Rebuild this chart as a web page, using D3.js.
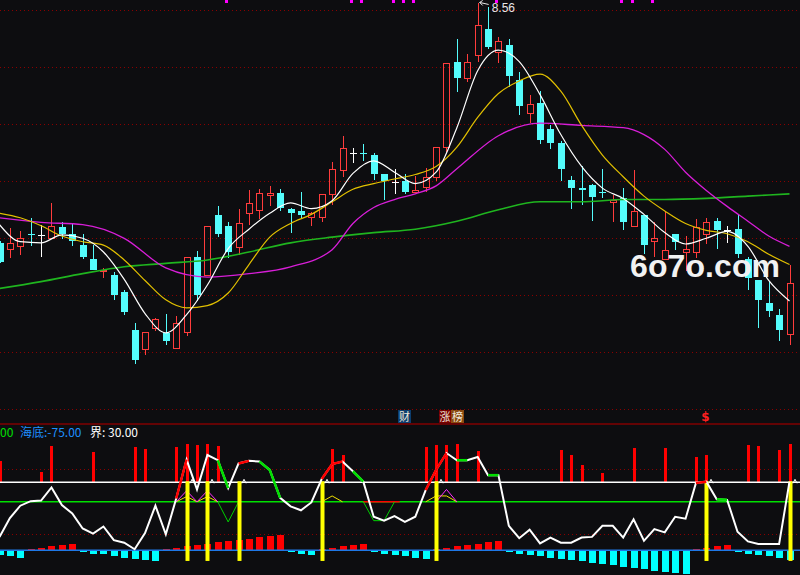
<!DOCTYPE html>
<html>
<head>
<meta charset="utf-8">
<script src="https://cdn.jsdelivr.net/npm/d3@7/dist/d3.min.js"></script>
<style>
  body { margin: 0; background: #0d0d10; }
  svg { display: block; }
</style>
</head>
<body>
<div id="chart"></div>
<script>
// daily candles (index 0 = left edge)
const opens  = [6.46,6.41,6.43,6.54,6.53,6.50,6.60,6.54,6.44,6.32, 6.21,6.18,6.03,5.70,5.53,5.71,5.67,5.54,5.68,6.34,
                6.18,6.70,6.61,6.42,6.72,6.75,6.88,6.90,6.76,6.74, 6.69,6.69,6.89,7.10,7.25,7.25,7.23,7.06,6.99,7.00,
                6.91,6.95,7.04,7.30,8.05,7.91,8.11,8.34,8.13,8.20, 7.89,7.60,7.69,7.46,7.34,7.01,6.94,6.97,6.91,6.82,
                6.85,6.61,6.70,6.48,6.32,6.54,6.38,6.38,6.54,6.65, 6.57,6.58,6.32,6.13,5.93,5.83,5.66];
const highs  = [6.48,6.59,6.56,6.68,6.62,6.81,6.64,6.63,6.54,6.44, 6.24,6.20,6.05,5.76,5.68,5.80,5.84,5.82,6.34,6.39,
                6.61,6.78,6.64,6.76,6.92,6.93,6.96,6.93,6.77,6.91, 6.73,6.89,7.17,7.40,7.29,7.33,7.25,7.06,7.11,7.06,
                7.05,7.12,7.30,8.04,8.25,8.12,8.56,8.53,8.27,8.25, 7.96,7.76,7.79,7.49,7.35,7.05,7.13,6.98,7.11,6.88,
                6.94,7.10,6.70,6.64,6.73,6.54,6.52,6.67,6.68,6.68, 6.61,6.70,6.34,6.13,6.12,5.88,6.27];
const lows   = [6.28,6.33,6.35,6.43,6.34,6.50,6.49,6.43,6.32,6.22, 6.15,5.96,5.83,5.40,5.48,5.69,5.56,5.54,5.64,5.95,
                6.18,6.51,6.33,6.35,6.62,6.67,6.78,6.74,6.55,6.68, 6.61,6.64,6.79,7.04,7.16,7.18,7.01,6.84,6.89,6.89,
                6.90,6.91,7.00,7.26,7.78,7.87,8.05,8.16,8.04,7.83, 7.58,7.51,7.33,7.28,7.00,6.76,6.79,6.65,6.85,6.64,
                6.57,6.61,6.36,6.34,6.32,6.40,6.21,6.33,6.45,6.41, 6.46,6.33,6.05,5.71,5.81,5.60,5.56];
const closes = [6.29,6.46,6.50,6.53,6.53,6.61,6.54,6.48,6.34,6.22, 6.22,6.00,5.85,5.43,5.68,5.79,5.60,5.76,6.34,6.00,
                6.61,6.54,6.38,6.63,6.81,6.90,6.90,6.77,6.72,6.70, 6.72,6.89,7.11,7.29,7.25,7.24,7.06,7.00,6.99,6.91,
                6.92,7.04,7.30,8.04,7.91,8.05,8.37,8.18,8.23,7.92, 7.66,7.68,7.36,7.34,7.11,6.94,6.92,6.86,6.90,6.84,
                6.64,6.74,6.44,6.50,6.40,6.47,6.41,6.60,6.64,6.57, 6.57,6.36,6.15,5.96,5.86,5.70,6.11];

// moving averages as drawn (sampled along the line)
const ma5Idx  = [0,2,4,6,8,10,12,14,16,18,20,22,24,26,28,30,32,34,36,38,40,42,44,46,48,50,52,54,56,58,60,62,64,66,68,70,72,74,76];
const ma5     = [6.62,6.47,6.46,6.53,6.50,6.38,6.14,5.84,5.67,5.83,6.09,6.41,6.58,6.72,6.81,6.76,6.83,7.07,7.18,7.08,
                 6.98,7.08,7.47,7.97,8.15,8.05,7.76,7.41,7.13,6.94,6.85,6.71,6.55,6.45,6.50,6.56,6.43,6.13,5.95];
const ma10Idx = ma5Idx;
const ma10    = [6.72,6.68,6.61,6.52,6.47,6.44,6.31,6.13,5.96,5.89,5.91,6.02,6.27,6.51,6.63,6.71,6.82,6.93,6.98,7.02,
                 7.06,7.13,7.30,7.56,7.77,7.88,7.94,7.79,7.49,7.23,7.04,6.87,6.74,6.63,6.57,6.54,6.47,6.36,6.27];
const ma30Idx = [0,4,8,12,16,20,24,28,32,34,36,38,40,42,44,48,52,56,60,62,64,66,68,70,72,74,76];
const ma30    = [6.68,6.64,6.62,6.50,6.24,6.16,6.19,6.25,6.40,6.63,6.77,6.84,6.89,6.96,7.11,7.40,7.51,7.49,7.47,7.41,
                 7.28,7.08,6.92,6.78,6.65,6.52,6.43];
const ma60Idx = [0,4,8,12,16,20,24,28,32,36,40,44,48,52,56,60,64,68,72,76];
const ma60    = [6.06,6.12,6.19,6.25,6.28,6.31,6.38,6.46,6.51,6.55,6.58,6.65,6.75,6.82,6.82,6.84,6.84,6.85,6.87,6.89];

const priceTicks = [8.5, 8.0, 7.5, 7.0, 6.5, 6.0, 5.5, 5.0];
const topMarks = [22, 34, 35, 38, 39, 40, 48, 60, 61, 63];
const highLabel = "8.56";

// lower panel: oscillator, signal bars, histogram
const osc = [-4,25,44,51,52,72,45,32,9,1, 12,-9,-13,-23,2,44,0,55,115,69, 122,114,71,109,113,112,99,56,43,37,
             49,85,108,112,97,81,27,21,28,19, 27,68,99,125,114,114,119,91,91,13, -6,7,-14,-5,-13,-13,-5,-4,13,13,
             -5,23,-10,8,3,27,24,79,81,54, 53,4,-11,-15,-15,-15,81];
const riseSegs = [[17,18],[23,24],[31,33],[41,43],[67,68]];
const fallSegs = [[21,22],[25,27],[34,35],[44,45],[47,48],[69,70]];
const sigIdx = [0,4,5,9,13,14,17,18,19,20, 21,32,33,41,42,43,44,46,54,55, 56,58,61,64,67,68,72,73,75,76];
const sigTop = [113,96,136,126,135,131,135,139,137,139, 136,132,122,135,137,137,139,128,130,122, 107,95,133,133,119,122,137,136,130,139];
const buyIdx = [18, 20, 23, 31, 42, 68, 76];
const yellowTri = [[[17,50],[18,58],[19,50],[20,58],[21,50]], [[31,50],[32,59],[33,50]], [[41,50],[42,59],[43,59],[44,50]]];
const magentaTri = [[[17,50],[18,67],[19,50],[20,67],[21,50]], [[42,50],[43,69],[44,50]]];
const greenV = [[[21,50],[22,19],[23,50]], [[35,50],[36,21],[37,21],[38,50]]];
const hist = [-4.7,-5.4,-7.4,1.6,2.6,4.6,5.6,6.3,-1.7,-3.7, -4.0,-5.4,-7.4,-8.7,-9.7,-10.7,1.3,2.6,4.6,5.6,
              6.6,8.6,9.6,10.6,11.6,13.6,14.6,15.6,-1.4,-3.4, -4.4,1.6,2.6,4.6,5.6,6.6,-1.4,-3.4,-4.4,-5.4,
              -7.4,-8.4,1.6,2.6,4.6,5.6,6.6,8.6,9.6,-1.4, -3.4,-4.4,-5.4,-7.4,-8.4,-9.4,-10.4,-12.4,-13.4,-14.4,
              -16.4,-17.4,-18.4,-20.4,-21.4,-22.4,-23.4,1.6,2.6,4.6, 5.6,-1.4,-3.4,-4.4,-5.4,-7.4,-9.4];
const legend = [
  { text: "00", color: "#00e000", x: 0 },
  { text: "海底:-75.00", color: "#1e90ff", x: 20 },
  { text: "界: 30.00", color: "#ffffff", x: 90 }
];

const RED = "#ff3c3c", CYAN = "#54fcfc", GRID = "#8a0000";

const svg = d3.select("#chart").append("svg")
    .attr("width", 800)
    .attr("height", 575)
    .style("background", "#0d0d10");

const x = d3.scaleLinear().domain([0, 76]).range([-0.5, 789.5]);
const cxOf = i => Math.round(x(i)) + 0.5;
const yP = d3.scaleLinear().domain([5.5, 8.5]).range([352.3, 10.3]);
const yO = d3.scaleLinear().domain([0, 100]).range([534.3, 469.3]);
const yH = d3.scaleLinear().domain([0, 10]).range([550.3, 540.3]);
const snap = v => Math.round(v) + 0.5;

const defs = svg.append("defs");
defs.append("clipPath").attr("id", "topClip").append("rect").attr("x", 0).attr("y", 0).attr("width", 800).attr("height", 423);
defs.append("clipPath").attr("id", "botClip").append("rect").attr("x", 0).attr("y", 425).attr("width", 800).attr("height", 150);

// ---------- price panel ----------
const upper = svg.append("g").attr("clip-path", "url(#topClip)");

upper.selectAll(".grid")
    .data(priceTicks)
    .enter().append("line")
    .attr("class", "grid")
    .attr("x1", 0).attr("x2", 800)
    .attr("y1", d => snap(yP(d))).attr("y2", d => snap(yP(d)))
    .attr("stroke", GRID)
    .attr("stroke-dasharray", "1,3");

upper.selectAll(".mark")
    .data(topMarks)
    .enter().append("rect")
    .attr("class", "mark")
    .attr("x", d => Math.round(x(d)) - 3)
    .attr("y", 0)
    .attr("width", 3).attr("height", 3)
    .attr("fill", "#ff00ff");

const candleData = d3.range(opens.length).map(i => ({ i, o: opens[i], h: highs[i], l: lows[i], c: closes[i] }));
const cg = upper.append("g").attr("shape-rendering", "crispEdges");

candleData.forEach(d => {
    let cx = cxOf(d.i);
    let yo = Math.round(yP(d.o)), yc = Math.round(yP(d.c));
    let yh = Math.round(yP(d.h)), yl = Math.round(yP(d.l));
    if (d.c > d.o) {
        // rising day: hollow red body
        cg.append("line").attr("x1", cx).attr("x2", cx).attr("y1", yh).attr("y2", yc).attr("stroke", RED);
        cg.append("line").attr("x1", cx).attr("x2", cx).attr("y1", yo).attr("y2", yl).attr("stroke", RED);
        cg.append("rect")
            .attr("x", cx - 3).attr("y", yc + 0.5)
            .attr("width", 6).attr("height", Math.max(1, yo - yc))
            .attr("fill", "none").attr("stroke", RED);
    } else if (d.c < d.o) {
        cg.append("line").attr("x1", cx).attr("x2", cx).attr("y1", yh).attr("y2", yl).attr("stroke", CYAN);
        cg.append("rect")
            .attr("x", cx - 3.5).attr("y", yo)
            .attr("width", 7).attr("height", Math.max(1, yc - yo))
            .attr("fill", CYAN);
    } else {
        cg.append("line").attr("x1", cx).attr("x2", cx).attr("y1", yh).attr("y2", yl).attr("stroke", "#ffffff");
        cg.append("line").attr("x1", cx - 3.5).attr("x2", cx + 3.5).attr("y1", yo + 0.5).attr("y2", yo + 0.5).attr("stroke", "#ffffff");
    }
});

const maLine = d3.line().x(d => x(d[0])).y(d => yP(d[1])).curve(d3.curveMonotoneX);
const maSeries = [
    { idx: ma60Idx, vals: ma60, color: "#1fb51f", w: 1.6 },
    { idx: ma30Idx, vals: ma30, color: "#d81ed8", w: 1.3 },
    { idx: ma10Idx, vals: ma10, color: "#e2c000", w: 1.2 },
    { idx: ma5Idx,  vals: ma5,  color: "#ffffff", w: 1.2 }
];
maSeries.forEach(s => {
    upper.append("path")
        .datum(s.idx.map((k, j) => [k, s.vals[j]]))
        .attr("d", maLine)
        .attr("fill", "none")
        .attr("stroke", s.color)
        .attr("stroke-width", s.w);
});

// label for the highest price
let hx = x(highs.indexOf(d3.max(highs)));
let hy = yP(d3.max(highs));
upper.append("path")
    .attr("d", `M${hx + 5},${hy - 3} L${hx + 2},${hy - 1} L${hx + 5},${hy + 2} M${hx + 2},${hy - 1} L${hx + 11},${hy + 1}`)
    .attr("fill", "none").attr("stroke", "#e8e8e8");
upper.append("text")
    .attr("x", hx + 14).attr("y", hy + 9)
    .attr("fill", "#e8e8e8")
    .style("font", "12px 'Liberation Sans', sans-serif")
    .text(highLabel);

// watermark
upper.append("text")
    .attr("x", 630).attr("y", 277)
    .attr("textLength", 150)
    .attr("fill", "#f2f2f2")
    .style("font", "bold 32px 'Liberation Sans', Arial, sans-serif")
    .text("6o7o.com");

// small tags between the panels
const tags = [
    { t: "财", x: 398, w: 13, bg: "#0b3d6e" },
    { t: "涨", x: 439, w: 12, bg: "#7a0000" },
    { t: "榜", x: 451, w: 13, bg: "#8a4a10" }
];
tags.forEach(t => {
    svg.append("rect").attr("x", t.x).attr("y", 410).attr("width", t.w).attr("height", 13).attr("fill", t.bg);
    svg.append("text")
        .attr("x", t.x + t.w / 2).attr("y", 421)
        .attr("text-anchor", "middle")
        .attr("fill", "#f0e8dc")
        .style("font", "11px 'Noto Sans CJK SC', sans-serif")
        .text(t.t);
});
svg.append("text")
    .attr("x", 705.5).attr("y", 421)
    .attr("text-anchor", "middle")
    .attr("fill", "#ff2020")
    .style("font", "bold 12px 'DejaVu Sans', sans-serif")
    .text("$");

svg.append("line")
    .attr("x1", 0).attr("x2", 800).attr("y1", 424).attr("y2", 424)
    .attr("stroke", "#800000").attr("stroke-width", 1.5);

// ---------- indicator panel ----------
const lower = svg.append("g").attr("clip-path", "url(#botClip)");

lower.selectAll(".ogrid")
    .data([0, 100])
    .enter().append("line")
    .attr("x1", 0).attr("x2", 800)
    .attr("y1", d => snap(yO(d))).attr("y2", d => snap(yO(d)))
    .attr("stroke", GRID)
    .attr("stroke-dasharray", "1,3");

// histogram
lower.append("g").attr("shape-rendering", "crispEdges")
    .selectAll("rect")
    .data(hist)
    .enter().append("rect")
    .attr("x", (d, i) => Math.round(x(i)) - 3)
    .attr("y", d => d >= 0 ? yH(d) : yH(0))
    .attr("width", 7)
    .attr("height", d => Math.abs(yH(d) - yH(0)))
    .attr("fill", d => d >= 0 ? "#ff0000" : "#00ffff");

lower.append("line")
    .attr("x1", 0).attr("x2", 800).attr("y1", yH(0)).attr("y2", yH(0))
    .attr("stroke", "#1e78e6").attr("stroke-width", 1.5);

// signal bars above the upper level
lower.append("g").attr("shape-rendering", "crispEdges")
    .selectAll("rect")
    .data(sigIdx)
    .enter().append("rect")
    .attr("x", d => Math.round(x(d)) - 1)
    .attr("y", (d, j) => yO(sigTop[j]))
    .attr("width", 3)
    .attr("height", (d, j) => yO(80) - yO(sigTop[j]))
    .attr("fill", "#ff0000");

// level lines
lower.append("line").attr("x1", 0).attr("x2", 800).attr("y1", yO(80)).attr("y2", yO(80))
    .attr("stroke", "#ffffff").attr("stroke-width", 1.5);
lower.append("line").attr("x1", 0).attr("x2", 800).attr("y1", yO(50)).attr("y2", yO(50))
    .attr("stroke", "#00e000").attr("stroke-width", 1.5);
lower.append("line").attr("x1", x(35)).attr("x2", x(38.5)).attr("y1", yO(50)).attr("y2", yO(50))
    .attr("stroke", "#ff0000").attr("stroke-width", 1.5);

const oLine = d3.line().x(d => x(d[0])).y(d => yO(d[1]));
const thin = (sets, color) => sets.forEach(s => {
    lower.append("path").datum(s).attr("d", oLine)
        .attr("fill", "none").attr("stroke", color).attr("stroke-width", 1);
});
thin(greenV, "#00d000");
thin(yellowTri, "#f0e000");
thin(magentaTri, "#ff30ff");

// buy markers
buyIdx.forEach(i => {
    let bx = Math.round(x(i));
    lower.append("rect")
        .attr("x", bx - 1.5).attr("y", yO(80) - 1)
        .attr("width", 4).attr("height", yO(-41) - yO(80) + 1)
        .attr("fill", "#ffff00");
    lower.append("path")
        .attr("d", `M${bx + 3},${yO(80) + 1} L${bx + 5},${yO(80) - 3} L${bx + 7},${yO(80) + 1}`)
        .attr("fill", "none").attr("stroke", "#ffffff").attr("stroke-width", 1);
});

// oscillator line with coloured rising / falling stretches
const oscPts = osc.map((v, i) => [i, v]);
lower.append("path").datum(oscPts).attr("d", oLine)
    .attr("fill", "none").attr("stroke", "#ffffff").attr("stroke-width", 2);
const segPath = (segs, color) => segs.forEach(s => {
    lower.append("path").datum(oscPts.slice(s[0], s[1] + 1)).attr("d", oLine)
        .attr("fill", "none").attr("stroke", color).attr("stroke-width", 2.5);
});
segPath(riseSegs, "#ff0000");
segPath(fallSegs, "#00e000");

// legend
svg.selectAll(".legend")
    .data(legend)
    .enter().append("text")
    .attr("class", "legend")
    .attr("x", d => d.x).attr("y", 437)
    .attr("fill", d => d.color)
    .style("font", "12px 'Noto Sans CJK SC', sans-serif")
    .text(d => d.text);
</script>
</body>
</html>
